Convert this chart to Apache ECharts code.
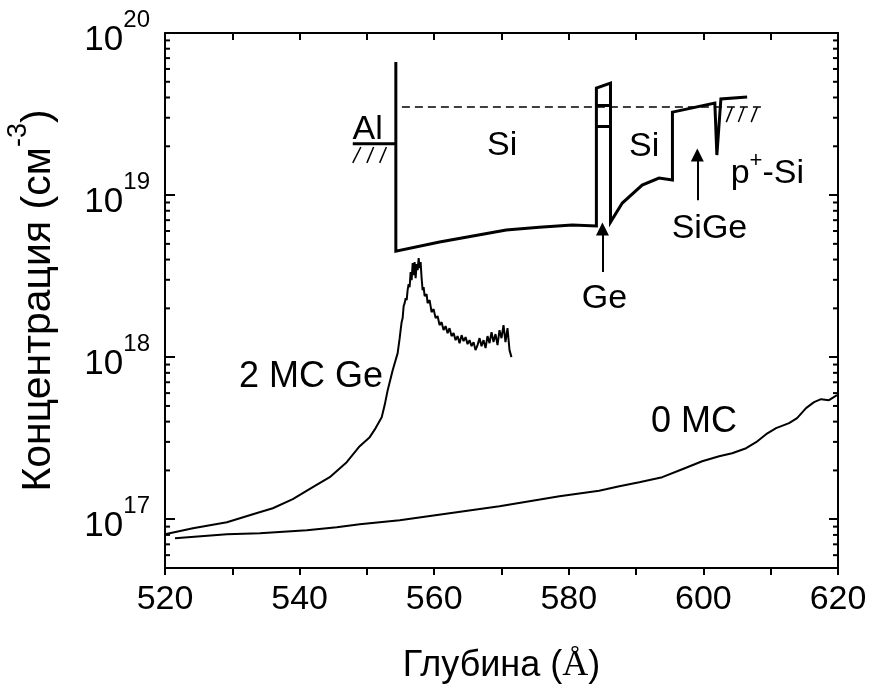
<!DOCTYPE html>
<html><head><meta charset="utf-8">
<script src="https://cdn.jsdelivr.net/npm/echarts@6/dist/echarts.min.js"></script>
<style>html,body{margin:0;padding:0;background:#fff}#c{width:874px;height:685px}</style>
</head><body><div id="c"></div>
<script>
// ---- data ----
const xTicks = [520, 540, 560, 580, 600, 620];
const yDecades = [1e17, 1e18, 1e19, 1e20];
const minorTickValues = [6e16,7e16,8e16,9e16,
  2e17,3e17,4e17,5e17,6e17,7e17,8e17,9e17,
  2e18,3e18,4e18,5e18,6e18,7e18,8e18,9e18,
  2e19,3e19,4e19,5e19,6e19,7e19,8e19,9e19];

const mc0 = [[521.48,7.63e16],[529.20,8.08e16],[534.09,8.20e16],[541.07,8.55e16],[545.52,8.93e16],[548.93,9.31e16],
  [554.87,9.86e16],[562.28,1.089e17],[569.70,1.203e17],[578.61,1.387e17],[584.5,1.50e17],[585.5,1.53e17],[587.51,1.598e17],
  [590.47,1.692e17],[593.89,1.817e17],[596.86,2.035e17],[599.82,2.280e17],[602.34,2.448e17],[604.27,2.555e17],
  [606.35,2.743e17],[607.83,2.988e17],[609.32,3.347e17],[610.80,3.645e17],[612.73,3.914e17],[613.92,4.203e17],
  [615.25,4.844e17],[616.44,5.275e17],[617.48,5.505e17],[618.66,5.428e17],[619.85,5.826e17]];

const mc2Ge = [[520.0,8.08e16],[524.15,8.80e16],[529.20,9.58e16],[533.06,1.074e17],[536.02,1.169e17],[538.99,1.329e17],
  [541.96,1.576e17],[544.48,1.817e17],[547.00,2.248e17],[548.93,2.822e17],[550.42,3.208e17],[551.3,3.65e17],[552.20,4.262e17],
  [552.64,5.06e17],[553.09,6.257e17],[553.83,8.31e17],[554.57,1.059e18],[554.87,1.310e18],[555.01,1.468e18],[555.16,1.644e18],
  [555.31,1.741e18],[555.46,2.065e18],[555.61,2.154e18],[555.76,2.313e18],[555.91,2.248e18],[556.05,2.592e18],
  [556.20,2.822e18],[556.35,2.704e18],[556.50,3.347e18],[556.65,2.988e18],[556.80,3.804e18],[556.95,3.208e18],
  [557.09,3.858e18],[557.24,3.074e18],[557.39,3.751e18],[557.54,3.443e18],[557.69,4.084e18],[557.83,3.543e18],
  [557.98,3.858e18],[558.13,3.074e18],[558.28,2.592e18],[558.43,2.704e18],[558.58,2.379e18],[558.87,2.448e18],
  [559.02,2.154e18],[559.32,2.248e18],[559.61,1.896e18],[559.91,1.979e18],[560.21,1.741e18],[560.50,1.792e18],
  [560.80,1.576e18],[561.10,1.644e18],[561.39,1.468e18],[561.69,1.554e18],[561.99,1.407e18],[562.28,1.510e18],
  [562.58,1.348e18],[562.88,1.407e18],[563.18,1.273e18],[563.47,1.348e18],[563.77,1.220e18],[564.07,1.367e18],
  [564.36,1.256e18],[564.66,1.329e18],[564.96,1.203e18],[565.25,1.273e18],[565.55,1.169e18],[565.85,1.238e18],
  [566.14,1.105e18],[566.44,1.186e18],[566.74,1.310e18],[567.03,1.169e18],[567.33,1.273e18],[567.63,1.137e18],
  [567.92,1.348e18],[568.22,1.220e18],[568.52,1.427e18],[568.81,1.238e18],[569.11,1.387e18],[569.41,1.186e18],
  [569.70,1.468e18],[570.00,1.310e18],[570.30,1.576e18],[570.59,1.238e18],[570.89,1.510e18],[571.19,1.105e18],
  [571.48,1.0e18]];

const profile = [[554.3,6.62e19],[554.3,4.51e18],[560.8,5.13e18],[570.7,6.08e18],[575.6,6.34e18],[580.5,6.53e18],
  [584.1,6.44e18],[584.1,4.57e19],[586.2,4.91e19],[586.2,6.81e18],[587.95,8.93e18],[590.9,1.153e19],
  [593.4,1.274e19],[595.4,1.239e19],[595.4,3.25e19],[601.7,3.70e19],[602.0,1.766e19],[602.6,3.92e19],[606.5,4.03e19]];

const geBars = [[[584.1,3.60e19],[586.2,3.60e19]],[[584.1,2.67e19],[586.2,2.67e19]]];
const alSurface = [[547.9,2.07e19],[554.3,2.07e19]];
const hatches = [[[547.9,1.58e19],[549.1,1.98e19]],[[550.0,1.58e19],[551.0,1.98e19]],[[551.9,1.58e19],[552.9,1.98e19]],
  [[603.4,2.82e19],[604.3,3.49e19]],[[605.2,2.82e19],[606.05,3.49e19]],[[607.1,2.82e19],[608.0,3.49e19]]];
const dashedLevel = [[555.2,3.49e19],[608.7,3.49e19]];
const arrows = [[[585.0,3.35e18],[585.0,6.17e18]],[[599.1,9.3e18],[599.1,1.77e19]]];

const labels = [
  {name:'{t|Al}', value:[550.1,2.63e19]},
  {name:'{t|Si}', value:[570.1,2.12e19]},
  {name:'{t|Si}', value:[591.2,2.09e19]},
  {name:'{t|p}{sup|+}{t|-Si}', value:[609.5,1.42e19]},
  {name:'{t|SiGe}', value:[600.9,6.44e18]},
  {name:'{t|Ge}', value:[585.3,2.41e18]},
  {name:'{b|2 MC Ge}', value:[541.7,7.54e17]},
  {name:'{b|0 MC}', value:[598.6,3.97e17]}
];

// ---- chart ----
const FONT = "'Liberation Sans', Arial, sans-serif";
const chart = echarts.init(document.getElementById('c'), null, {renderer:'canvas'});
function isDecade(v){ const e = Math.round(Math.log10(v)); return Math.abs(v/Math.pow(10,e) - 1) < 1e-6 ? e : null; }

const option = {
  backgroundColor:'#fff',
  animation:false,
  grid:{left:165, right:36, top:33, bottom:117, containLabel:false, outerBoundsMode:'none'},
  xAxis:[{
    type:'value', min:520, max:620, interval:10, position:'bottom',
    axisLine:{show:true, onZero:false, lineStyle:{color:'#000', width:2}},
    axisTick:{show:true, inside:false, length:7, lineStyle:{color:'#000', width:2}},
    splitLine:{show:false},
    axisLabel:{margin:15, color:'#000', fontFamily:FONT, fontSize:34, lineHeight:34,
      formatter:v => xTicks.indexOf(v) >= 0 ? String(v) : ''},
    name:'{a|Глубина (}{s|Å}{a|)}', nameLocation:'middle', nameGap:80,
    nameTextStyle:{rich:{a:{fontFamily:FONT, fontSize:36, color:'#000'}, s:{fontFamily:"'Liberation Serif', 'Times New Roman', serif", fontSize:36, color:'#000'}}}
  },{
    type:'value', min:520, max:620, interval:10, position:'top',
    axisLine:{show:true, onZero:false, lineStyle:{color:'#000', width:2}},
    axisTick:{show:true, inside:true, length:7, lineStyle:{color:'#000', width:2}},
    axisLabel:{show:false}, splitLine:{show:false}
  }],
  yAxis:[{
    type:'log', logBase:10, min:5e16, max:1e20, position:'left',
    axisLine:{show:true, onZero:false, lineStyle:{color:'#000', width:2}},
    axisTick:{show:true, inside:true, length:10, lineStyle:{color:'#000', width:2}},
    splitLine:{show:false},
    axisLabel:{margin:15, color:'#000',
      formatter:v => { const e = isDecade(v); return (e === null || yDecades.indexOf(Math.pow(10,e)) < 0) ? '' : '{b|10}{s|' + e + '}'; },
      rich:{b:{fontFamily:FONT, fontSize:35, lineHeight:50, verticalAlign:'bottom', color:'#000'},
            s:{fontFamily:FONT, fontSize:24, lineHeight:24, verticalAlign:'top', color:'#000'}}},
    name:'{a|Концентрация (см}{s|-3}{a|)}', nameLocation:'middle', nameGap:106,
    nameTextStyle:{rich:{a:{fontFamily:FONT, fontSize:41, lineHeight:54, verticalAlign:'bottom', color:'#000'},
                         s:{fontFamily:FONT, fontSize:27, lineHeight:27, verticalAlign:'top', color:'#000'}}}
  },{
    type:'log', logBase:10, min:5e16, max:1e20, position:'right',
    axisLine:{show:true, onZero:false, lineStyle:{color:'#000', width:2}},
    axisTick:{show:true, inside:true, length:9, lineStyle:{color:'#000', width:2}},
    axisLabel:{show:false}, splitLine:{show:false}
  }],
  series:[
    {type:'custom', name:'minorTicks', xAxisIndex:0, yAxisIndex:0, silent:true,
      data: minorTickValues.map(v => [520, v]), encode:{x:0, y:1}, clip:false,
      renderItem:(params, api) => {
        const v = api.value(1);
        const pl = api.coord([520, v]); const pr = api.coord([620, v]);
        return {type:'group', children:[
          {type:'line', shape:{x1:pl[0], y1:pl[1], x2:pl[0]+5, y2:pl[1]}, style:{stroke:'#000', lineWidth:2}},
          {type:'line', shape:{x1:pr[0]-5, y1:pr[1], x2:pr[0], y2:pr[1]}, style:{stroke:'#000', lineWidth:2}}
        ]};
      }},
    {type:'line', name:'0 MC', data:mc0, showSymbol:false, symbol:'none', lineStyle:{color:'#000', width:2}},
    {type:'line', name:'2 MC Ge', data:mc2Ge, showSymbol:false, symbol:'none', lineStyle:{color:'#000', width:2}},
    {type:'line', name:'profile', data:profile, showSymbol:false, symbol:'none', lineStyle:{color:'#000', width:3, join:'miter'}},
    {type:'line', name:'Al', data:alSurface, showSymbol:false, symbol:'none', lineStyle:{color:'#000', width:3}},
    {type:'line', name:'dashed', data:dashedLevel, showSymbol:false, symbol:'none', lineStyle:{color:'#000', width:1.5, type:[8,5]}},
    {type:'lines', name:'bars', coordinateSystem:'cartesian2d', xAxisIndex:0, yAxisIndex:0,
      data: geBars.map(c => ({coords:c})), lineStyle:{color:'#000', width:3, opacity:1}},
    {type:'lines', name:'hatch', coordinateSystem:'cartesian2d', xAxisIndex:0, yAxisIndex:0,
      data: hatches.map(c => ({coords:c})), lineStyle:{color:'#000', width:1.5, opacity:1}},
    {type:'lines', name:'arrows', coordinateSystem:'cartesian2d', xAxisIndex:0, yAxisIndex:0,
      symbol:['none','triangle'], symbolSize:[0,13],
      data: arrows.map(c => ({coords:c})), lineStyle:{color:'#000', width:2, opacity:1}, itemStyle:{color:'#000'}},
    {type:'scatter', name:'labels', data:labels, symbolSize:1, itemStyle:{color:'rgba(0,0,0,0)', opacity:1}, silent:true,
      label:{show:true, position:'inside', formatter:p => p.name, color:'#000', opacity:1,
        rich:{t:{fontFamily:FONT, fontSize:34, lineHeight:40, verticalAlign:'bottom', color:'#000'},
              b:{fontFamily:FONT, fontSize:36, lineHeight:40, color:'#000'},
              sup:{fontFamily:FONT, fontSize:22, lineHeight:22, verticalAlign:'top', color:'#000'}}}}
  ]
};
chart.setOption(option);
</script></body></html>
